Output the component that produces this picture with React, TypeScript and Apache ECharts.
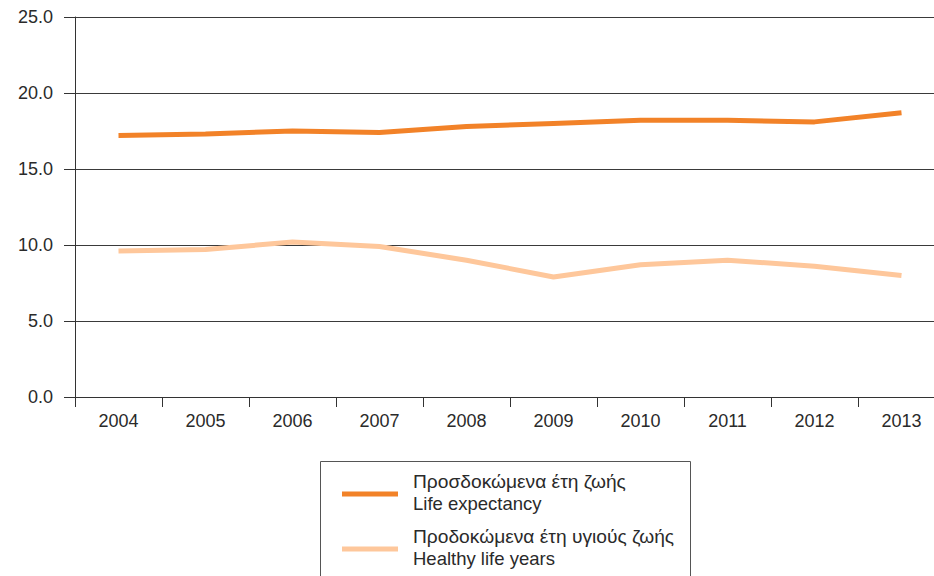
import React, { useEffect, useRef } from "react";
import * as echarts from "echarts";

const years = ["2004", "2005", "2006", "2007", "2008", "2009", "2010", "2011", "2012", "2013"];
const lifeExpectancy = [17.2, 17.3, 17.5, 17.4, 17.8, 18.0, 18.2, 18.2, 18.1, 18.7];
const healthyLifeYears = [9.6, 9.7, 10.2, 9.9, 9.0, 7.9, 8.7, 9.0, 8.6, 8.0];
const legendLabels = [
  ["Προσδοκώμενα έτη ζωής", "Life expectancy"],
  ["Προδοκώμενα έτη υγιούς ζωής", "Healthy life years"],
];
const colors = ["#F28228", "#FEC79B"];

const FONT = "'Liberation Sans', Arial, Helvetica, sans-serif";

export default function App() {
  const ref = useRef<HTMLDivElement>(null);
  useEffect(() => {
    if (!ref.current) return;
    const chart = echarts.init(ref.current, null, { renderer: "svg" });
    const legendGraphics: any[] = [
      {
        type: "rect",
        shape: { x: 320.5, y: 461.5, width: 370, height: 140 },
        style: { fill: "#fff", stroke: "#555", lineWidth: 1 },
      },
    ];
    legendLabels.forEach((lbl, i) => {
      const base = 481 + i * 55;
      legendGraphics.push({
        type: "line",
        shape: { x1: 342, y1: base + 13, x2: 398, y2: base + 13 },
        style: { stroke: colors[i], lineWidth: 5 },
      });
      lbl.forEach((t, j) => {
        legendGraphics.push({
          type: "text",
          x: 413,
          y: base + j * 22,
          style: {
            text: t,
            fill: "#2a2a2a",
            font: `${j === 0 ? 19.2 : 18.5}px ${FONT}`,
            verticalAlign: "middle",
          },
        });
      });
    });
    chart.setOption({
      animation: false,
      grid: { left: 75, top: 17, right: 0, bottom: 179, containLabel: false },
      textStyle: { fontFamily: FONT },
      xAxis: {
        type: "category",
        data: years,
        boundaryGap: true,
        axisLine: { show: true, lineStyle: { color: "#333", width: 1 } },
        axisTick: { show: true, length: 10, alignWithLabel: false, lineStyle: { color: "#333" } },
        axisLabel: { color: "#2a2a2a", fontSize: 18, margin: 15, fontFamily: FONT },
        splitLine: { show: false },
      },
      yAxis: {
        type: "value",
        min: 0,
        max: 25,
        interval: 5,
        axisLine: { show: true, lineStyle: { color: "#333", width: 1 } },
        axisTick: { show: true, length: 11, lineStyle: { color: "#333" } },
        axisLabel: {
          color: "#2a2a2a",
          fontSize: 18,
          margin: 22,
          fontFamily: FONT,
          formatter: (v: number) => v.toFixed(1),
        },
        splitLine: { show: true, lineStyle: { color: "#3a3a3a", width: 1 } },
      },
      series: [
        {
          name: legendLabels[0][1],
          type: "line",
          data: lifeExpectancy,
          symbol: "none",
          lineStyle: { color: colors[0], width: 5 },
          itemStyle: { color: colors[0] },
        },
        {
          name: legendLabels[1][1],
          type: "line",
          data: healthyLifeYears,
          symbol: "none",
          lineStyle: { color: colors[1], width: 5 },
          itemStyle: { color: colors[1] },
        },
      ],
      graphic: legendGraphics,
    });
    return () => chart.dispose();
  }, []);
  return (
    <div style={{ width: 934, height: 576, position: "fixed", left: 0, top: 0, overflow: "hidden", background: "#fff" }}>
      <div ref={ref} style={{ width: 945, height: 576 }} />
    </div>
  );
}
